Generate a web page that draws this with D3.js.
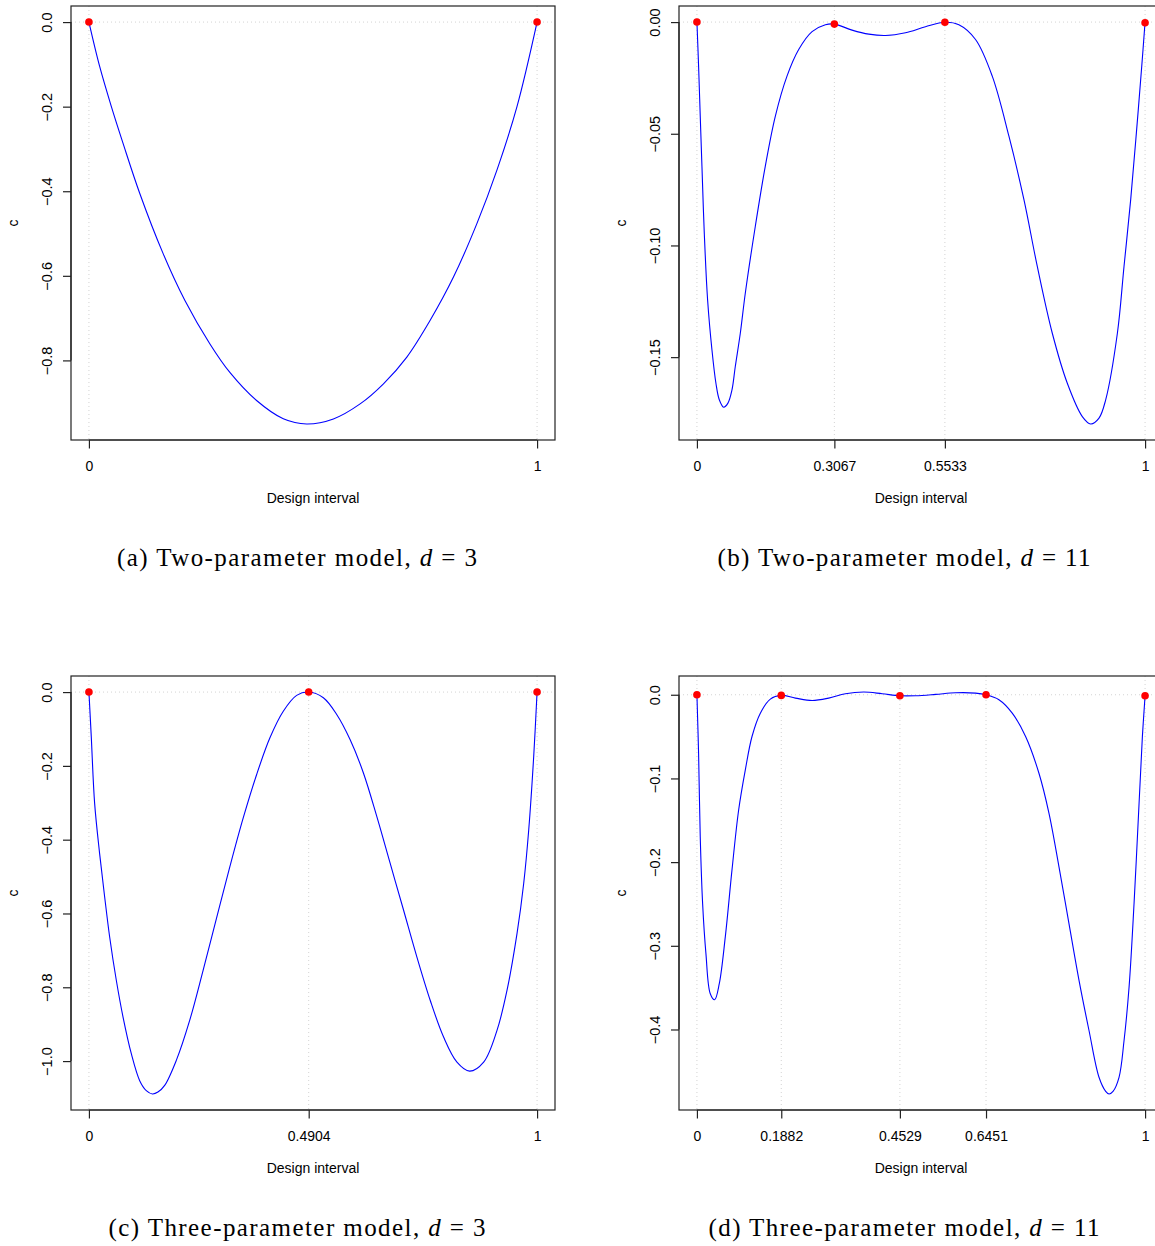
<!DOCTYPE html>
<html><head><meta charset="utf-8">
<script src="https://cdn.jsdelivr.net/npm/d3@7"></script>
<style>body{margin:0;background:#fff}svg{display:block}</style>
</head><body>
<svg id="chart" width="1155" height="1246"></svg>
<script>
// ---------- Panel (a): two-parameter model, d = 3 ----------
const xA = [0,0.0238,0.0499,0.076,0.1133,0.1654,0.2139,0.2697,0.3145,0.3741,0.4337,0.4858,0.5455,0.6051,0.6572,0.7094,0.7615,0.8137,0.8659,0.9106,0.9553,1];
const cA = [0,-0.1043,-0.1992,-0.2862,-0.4047,-0.547,-0.6577,-0.7605,-0.8285,-0.8949,-0.938,-0.9502,-0.9383,-0.9028,-0.8553,-0.7921,-0.7051,-0.6024,-0.4759,-0.3494,-0.1992,0];
const designA = [0,1];
const designLabelsA = ["0","1"];
const designCA = [0,0];
const yTicksA = [0,-0.2,-0.4,-0.6,-0.8];
const yLabelsA = ["0.0","\u22120.2","\u22120.4","\u22120.6","\u22120.8"];

// ---------- Panel (b): two-parameter model, d = 11 ----------
const xB = [0,0.0037,0.0074,0.0112,0.0164,0.0238,0.0335,0.0424,0.0499,0.0596,0.0692,0.0782,0.0856,0.0968,0.108,0.1303,0.1526,0.175,0.201,0.2271,0.2569,0.2867,0.3067,0.3462,0.3835,0.4207,0.4654,0.51,0.5533,0.5845,0.6217,0.659,0.6962,0.7297,0.7595,0.793,0.8265,0.86,0.8786,0.8972,0.9121,0.9382,0.953,0.9679,0.9806,0.9926,1];
const cB = [0,-0.0197,-0.0421,-0.0645,-0.0944,-0.1243,-0.1467,-0.1617,-0.1691,-0.1724,-0.1706,-0.1647,-0.1542,-0.1393,-0.1213,-0.0914,-0.0645,-0.0421,-0.0242,-0.0123,-0.0043,-0.0012,-0.0009,-0.0036,-0.0054,-0.006,-0.0048,-0.0021,-0.0001,-0.0012,-0.0078,-0.0242,-0.0511,-0.0795,-0.1094,-0.1393,-0.1617,-0.1766,-0.1799,-0.1773,-0.1691,-0.1393,-0.1094,-0.0795,-0.0496,-0.0197,0];
const designB = [0,0.3067,0.5533,1];
const designLabelsB = ["0","0.3067","0.5533","1"];
const designCB = [0,-0.0009,-0.0001,-0.0003];
const yTicksB = [0,-0.05,-0.10,-0.15];
const yLabelsB = ["0.00","\u22120.05","\u22120.10","\u22120.15"];

// ---------- Panel (c): three-parameter model, d = 3 ----------
const xC = [0,0.0052,0.0127,0.0238,0.035,0.0462,0.0611,0.076,0.0946,0.1133,0.128,0.1416,0.154,0.169,0.195,0.225,0.2548,0.2846,0.3145,0.3443,0.3741,0.4039,0.4337,0.4635,0.4904,0.5231,0.5529,0.5827,0.6125,0.6423,0.6721,0.702,0.7317,0.7615,0.7914,0.8212,0.8495,0.8808,0.9106,0.933,0.9553,0.9702,0.9814,0.9925,1];
const cC = [0,-0.120,-0.301,-0.437,-0.554,-0.663,-0.781,-0.880,-0.980,-1.053,-1.080,-1.089,-1.084,-1.066,-0.998,-0.889,-0.754,-0.613,-0.473,-0.341,-0.224,-0.124,-0.052,-0.009,0,-0.0154,-0.0607,-0.1286,-0.2192,-0.337,-0.4638,-0.5906,-0.7174,-0.8351,-0.9348,-1.0027,-1.0272,-1.0027,-0.9167,-0.808,-0.654,-0.518,-0.373,-0.174,0];
const designC = [0,0.4904,1];
const designLabelsC = ["0","0.4904","1"];
const designCC = [0,0,0];
const yTicksC = [0,-0.2,-0.4,-0.6,-0.8,-1.0];
const yLabelsC = ["0.0","\u22120.2","\u22120.4","\u22120.6","\u22120.8","\u22121.0"];

// ---------- Panel (d): three-parameter model, d = 11 ----------
const xD = [0,0.0037,0.0074,0.0127,0.0201,0.0298,0.0395,0.0499,0.0633,0.0782,0.0931,0.108,0.1229,0.1415,0.1638,0.1882,0.2197,0.2569,0.2941,0.3313,0.3723,0.4133,0.4529,0.4877,0.5324,0.5771,0.6217,0.6451,0.6739,0.7036,0.7334,0.7632,0.7856,0.8079,0.8302,0.8526,0.8749,0.8972,0.9121,0.9196,0.9285,0.9419,0.9531,0.9643,0.9754,0.9866,0.994,1];
const cD = [0,-0.0699,-0.1697,-0.2495,-0.3094,-0.3573,-0.3645,-0.3453,-0.2894,-0.2096,-0.1377,-0.0898,-0.0499,-0.022,-0.0052,-0.0008,-0.004,-0.0068,-0.004,0.0012,0.0032,0.0012,-0.0012,-0.0012,0.0004,0.0024,0.002,0,-0.006,-0.022,-0.0499,-0.0938,-0.1417,-0.2056,-0.2735,-0.3413,-0.4012,-0.4571,-0.4739,-0.477,-0.4739,-0.4571,-0.4132,-0.3493,-0.2495,-0.1297,-0.0499,-0.0012];
const designD = [0,0.1882,0.4529,0.6451,1];
const designLabelsD = ["0","0.1882","0.4529","0.6451","1"];
const designCD = [0,-0.0008,-0.0012,0,-0.0012];
const yTicksD = [0,-0.1,-0.2,-0.3,-0.4];
const yLabelsD = ["0.0","\u22120.1","\u22120.2","\u22120.3","\u22120.4"];

const captions = [
  ["(a) Two-parameter model, ", "d", " = 3"],
  ["(b) Two-parameter model, ", "d", " = 11"],
  ["(c) Three-parameter model, ", "d", " = 3"],
  ["(d) Three-parameter model, ", "d", " = 11"]
];

const panels = [
  {x:xA, c:cA, dx:designA, dl:designLabelsA, dc:designCA, yt:yTicksA, yl:yLabelsA, cap:captions[0], ox:0, oy:0, cx:297, cw:360},
  {x:xB, c:cB, dx:designB, dl:designLabelsB, dc:designCB, yt:yTicksB, yl:yLabelsB, cap:captions[1], ox:608, oy:0, cx:904, cw:373},
  {x:xC, c:cC, dx:designC, dl:designLabelsC, dc:designCC, yt:yTicksC, yl:yLabelsC, cap:captions[2], ox:0, oy:670, cx:297, cw:377},
  {x:xD, c:cD, dx:designD, dl:designLabelsD, dc:designCD, yt:yTicksD, yl:yLabelsD, cap:captions[3], ox:608, oy:670, cx:904, cw:391}
];

const svg = d3.select("#chart");
const sans = "'Liberation Sans', Arial, Helvetica, sans-serif";

panels.forEach(p => {
  const L = 71 + p.ox, R = 555 + p.ox, T = 6 + p.oy, B = 440 + p.oy;
  const x = d3.scaleLinear().domain([-0.04, 1.04]).range([L, R]);
  const all = p.c.concat(p.dc);
  const lo = d3.min(all), hi = d3.max(all), ext = (hi - lo) * 0.04;
  const y = d3.scaleLinear().domain([lo - ext, hi + ext]).range([B, T]);
  const g = svg.append("g");

  // grid: dotted vertical at design points, horizontal at 0
  g.selectAll(".gv").data(p.dx).enter().append("line")
    .attr("x1", d => x(d)).attr("x2", d => x(d)).attr("y1", T).attr("y2", B)
    .attr("stroke", "#d3d3d3").attr("stroke-width", 1).attr("stroke-dasharray", "1,3");
  g.append("line").attr("x1", L).attr("x2", R).attr("y1", y(0)).attr("y2", y(0))
    .attr("stroke", "#d3d3d3").attr("stroke-width", 1).attr("stroke-dasharray", "1,3");

  // curve
  const pts = p.x.map((v, i) => [v, p.c[i]]);
  g.append("path").datum(pts)
    .attr("d", d3.line().x(d => x(d[0])).y(d => y(d[1])).curve(d3.curveCatmullRom.alpha(0.5)))
    .attr("fill", "none").attr("stroke", "#0000ff").attr("stroke-width", 1.1);

  // design points
  g.selectAll(".pt").data(p.dx.map((v, i) => [v, p.dc[i]])).enter().append("circle")
    .attr("cx", d => x(d[0])).attr("cy", d => y(d[1])).attr("r", 3.8).attr("fill", "#ff0000");

  // box
  g.append("rect").attr("x", L).attr("y", T).attr("width", R - L).attr("height", B - T)
    .attr("fill", "none").attr("stroke", "#222").attr("stroke-width", 1.2);

  // x axis
  const xa = d3.axisBottom(x).tickValues(p.dx).tickFormat((d, i) => p.dl[i]).tickSize(8.5);
  const gx = g.append("g").attr("transform", `translate(0,${B})`).call(xa);
  gx.select(".domain").attr("d", `M${x(p.dx[0])},0H${x(p.dx[p.dx.length-1])}`).attr("stroke", "#222").attr("stroke-width", 1.2);
  gx.selectAll(".tick line").attr("stroke", "#222").attr("stroke-width", 1.2);
  gx.selectAll(".tick text").attr("font-family", sans).attr("font-size", 14).attr("fill", "#000").attr("dy", null).attr("y", 31);

  // y axis
  const ya = d3.axisLeft(y).tickValues(p.yt).tickFormat((d, i) => p.yl[i]).tickSize(8);
  const gy = g.append("g").attr("transform", `translate(${L},0)`).call(ya);
  gy.select(".domain").attr("d", `M0,${y(p.yt[p.yt.length-1])}V${y(p.yt[0])}`).attr("stroke", "#222").attr("stroke-width", 1.2);
  gy.selectAll(".tick line").attr("stroke", "#222").attr("stroke-width", 1.2);
  gy.selectAll(".tick text").attr("font-family", sans).attr("font-size", 14.5).attr("fill", "#000")
    .attr("x", null).attr("dy", null).attr("text-anchor", "middle")
    .attr("transform", "translate(-19,0) rotate(-90)");

  // axis titles
  g.append("text").attr("x", (L + R) / 2).attr("y", 503 + p.oy).attr("text-anchor", "middle")
    .attr("font-family", sans).attr("font-size", 14).attr("fill", "#000").text("Design interval");
  g.append("text").attr("transform", `translate(${17.5 + p.ox},${(T + B) / 2}) rotate(-90)`)
    .attr("text-anchor", "middle").attr("font-family", sans).attr("font-size", 14).attr("fill", "#000").text("c");

  // caption
  const cap = g.append("text").attr("x", p.cx).attr("y", 566 + p.oy).attr("text-anchor", "middle")
    .attr("font-family", "'Liberation Serif', 'Times New Roman', serif").attr("font-size", 25).attr("fill", "#000")
    .attr("textLength", p.cw).attr("lengthAdjust", "spacing");
  cap.append("tspan").text(p.cap[0]);
  cap.append("tspan").attr("font-style", "italic").text(p.cap[1]);
  cap.append("tspan").text(p.cap[2]);
});
</script>
</body></html>
